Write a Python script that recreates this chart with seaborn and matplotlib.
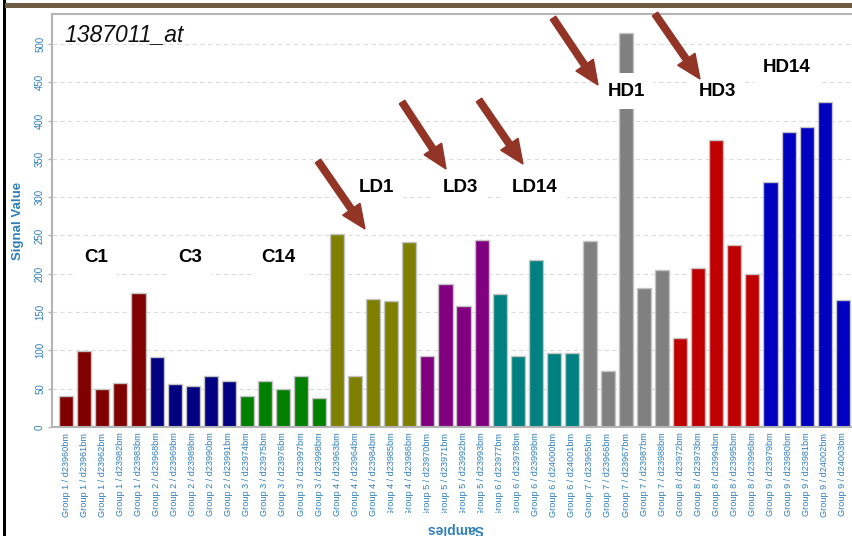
import matplotlib
matplotlib.use("Agg")
import matplotlib.pyplot as plt
from matplotlib.patches import Rectangle, FancyArrow
import pandas as pd
import seaborn as sns

# Samples (chip IDs) per treatment group
group1 = ["d23960bm", "d23961bm", "d23962bm", "d23982bm", "d23983bm"]
group2 = ["d23968bm", "d23969bm", "d23989bm", "d23990bm", "d23991bm"]
group3 = ["d23974bm", "d23975bm", "d23976bm", "d23997bm", "d23998bm"]
group4 = ["d23963bm", "d23964bm", "d23984bm", "d23985bm", "d23986bm"]
group5 = ["d23970bm", "d23971bm", "d23992bm", "d23993bm"]
group6 = ["d23977bm", "d23978bm", "d23999bm", "d24000bm", "d24001bm"]
group7 = ["d23965bm", "d23966bm", "d23967bm", "d23987bm", "d23988bm"]
group8 = ["d23972bm", "d23973bm", "d23994bm", "d23995bm", "d23996bm"]
group9 = ["d23979bm", "d23980bm", "d23981bm", "d24002bm", "d24003bm"]

# Signal values per group
signal1 = [40, 99, 49, 57, 175]
signal2 = [92, 56, 54, 66, 60]
signal3 = [40, 60, 50, 66, 38]
signal4 = [252, 66, 167, 164, 241]
signal5 = [93, 186, 158, 244]
signal6 = [173, 93, 218, 96, 97]
signal7 = [243, 73, 514, 182, 205]
signal8 = [116, 207, 374, 237, 200]
signal9 = [320, 385, 391, 424, 166]

group_colors = ["#800000", "#000080", "#008000", "#808000", "#800080",
                "#008080", "#808080", "#C00000", "#0000C0"]
condition_labels = ["C1", "C3", "C14", "LD1", "LD3", "LD14", "HD1", "HD3", "HD14"]
probe_title = "1387011_at"

samples = [group1, group2, group3, group4, group5, group6, group7, group8, group9]
signals = [signal1, signal2, signal3, signal4, signal5, signal6, signal7, signal8, signal9]

rows = []
for gi, (names, vals) in enumerate(zip(samples, signals), start=1):
    for n, v in zip(names, vals):
        rows.append({"sample": f"Group {gi} / {n}", "value": v, "group": f"Group {gi}"})
df = pd.DataFrame(rows)

sns.set_style("white")
plt.rcParams["font.family"] = ["Liberation Sans", "DejaVu Sans"]

W, H = 852, 536
fig = plt.figure(figsize=(W / 100, H / 100), dpi=100)


def fx(x):
    return x / W


def fy(y):
    return 1 - y / H


ax = fig.add_axes([fx(52), fy(427), 805 / W, 413 / H])

blue_txt = "#2f7fb6"

sns.barplot(data=df, x="sample", y="value", hue="group",
            palette=group_colors, saturation=1, dodge=False, width=0.78,
            edgecolor="#c4c4c4", linewidth=1.0, legend=False, ax=ax,
            zorder=2)

ax.set_xlim(-0.79, 43.79)
ax.set_ylim(0, 539)
ax.set_yticks(range(0, 501, 50))
ax.yaxis.grid(True, linestyle=(0, (4, 3)), color="#dcdcdc", linewidth=0.8)
ax.set_axisbelow(True)

for side in ["left", "bottom", "top"]:
    ax.spines[side].set_color("#b4b4b4")
    ax.spines[side].set_linewidth(1.5)
ax.spines["right"].set_visible(False)

ax.tick_params(axis="y", labelrotation=90, labelsize=7, labelcolor=blue_txt,
               color="#b4b4b4", length=3, width=1, pad=2, left=True)
for t in ax.get_yticklabels():
    t.set_va("center")
ax.tick_params(axis="x", labelrotation=90, labelsize=6.6, labelcolor=blue_txt,
               length=0, pad=4)

ax.set_ylabel("Signal Value", fontsize=9.5, fontweight="bold", color=blue_txt)
ax.yaxis.set_label_coords(-0.035, 0.5)
ax.set_xlabel("")

# Probe set title
fig.text(fx(64), fy(35), probe_title, fontsize=16.5, fontstyle="italic",
         fontweight="medium", color="#111111", ha="left", va="center")

# Condition labels
label_pos = [(96, 258), (190, 258), (278, 258), (376, 187), (460, 187),
             (535, 187), (626, 91), (717, 91), (787, 67)]
for lab, (x, y) in zip(condition_labels, label_pos):
    fig.text(fx(x), fy(y), lab, fontsize=13.5, fontweight="bold", color="black",
             ha="center", va="center", zorder=5,
             bbox=dict(boxstyle="square,pad=0.5", facecolor="white",
                       edgecolor="none"))

# Arrows pointing at the dose labels
arrows = [((318, 161), (365, 229)), ((402, 102), (446, 169)),
          ((479, 100), (523, 164)), ((553, 18), (598, 85)),
          ((655, 14), (700, 79))]
for (x0, y0), (x1, y1) in arrows:
    arr = FancyArrow(x0, H - y0, x1 - x0, -(y1 - y0), width=6.5,
                     head_width=21, head_length=24, length_includes_head=True,
                     color="#923426", transform=None, zorder=6)
    fig.add_artist(arr)

# Upside-down axis title with its white backing
fig.add_artist(Rectangle((fx(383), 0), (522 - 383) / W, (536 - 513) / H,
                         transform=fig.transFigure, facecolor="white",
                         edgecolor="none", zorder=4))
fig.text(fx(455), fy(529), "Samples", rotation=180, fontsize=10,
         fontweight="bold", color=blue_txt, ha="center", va="center", zorder=5)

# Page frame: dark left rule and brown top band
fig.add_artist(Rectangle((fx(2.5), 0), 3.5 / W, 1, transform=fig.transFigure,
                         facecolor="black", edgecolor="none", zorder=7))
fig.add_artist(Rectangle((fx(5), fy(7.5)), 1, 4.5 / H, transform=fig.transFigure,
                         facecolor="#6e5b43", edgecolor="none", zorder=7))

fig.savefig("out.png", dpi=100)
